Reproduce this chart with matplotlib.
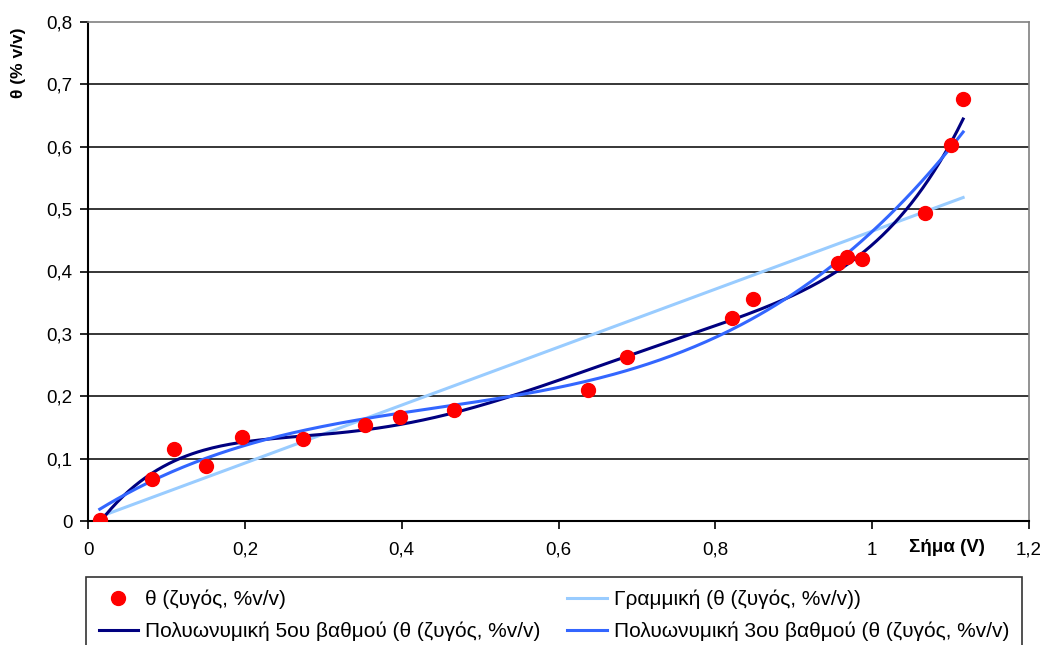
import numpy as np
import matplotlib
matplotlib.use("Agg")
import matplotlib.pyplot as plt
from matplotlib.ticker import FixedLocator, FuncFormatter

plt.rcParams['font.family'] = ['Liberation Sans', 'DejaVu Sans']

# Data
signal_v = [0.015, 0.082, 0.110, 0.150, 0.196, 0.274, 0.353, 0.398, 0.467,
            0.638, 0.687, 0.821, 0.848, 0.957, 0.968, 0.987, 1.068, 1.101, 1.116]
theta = [0.002, 0.067, 0.115, 0.088, 0.135, 0.131, 0.154, 0.167, 0.178,
         0.210, 0.263, 0.325, 0.356, 0.413, 0.423, 0.420, 0.494, 0.603, 0.676]

x_ticks = [0, 0.2, 0.4, 0.6, 0.8, 1.0, 1.2]
y_ticks = [0, 0.1, 0.2, 0.3, 0.4, 0.5, 0.6, 0.7, 0.8]

lbl_points = "θ (ζυγός, %v/v)"
lbl_lin = "Γραμμική (θ (ζυγός, %v/v))"
lbl_p5 = "Πολυωνυμική 5ου βαθμού (θ (ζυγός, %v/v)"
lbl_p3 = "Πολυωνυμική 3ου βαθμού (θ (ζυγός, %v/v)"

x = np.array(signal_v)
y = np.array(theta)
xs = np.linspace(x.min(), x.max(), 300)
lin = np.polyval(np.polyfit(x, y, 1), xs)
p5 = np.polyval(np.polyfit(x, y, 5), xs)
p3 = np.polyval(np.polyfit(x, y, 3), xs)

W, H = 1045, 645
fig = plt.figure(figsize=(W/100, H/100), dpi=100)
ax = fig.add_axes([88/W, 1-521/H, (1029-88)/W, (521-22)/H])

for v in y_ticks[1:-1]:
    ax.axhline(v, color='black', lw=1.1, zorder=1)

h_pts, = ax.plot(x, y, 'o', color='#FF0000', ms=10, mec='#FF0000', zorder=3, label=lbl_points)
h_lin, = ax.plot(xs, lin, color='#99CCFF', lw=2.2, zorder=2, label=lbl_lin)
h_p5, = ax.plot(xs, p5, color='#000080', lw=2.2, zorder=2, label=lbl_p5)
h_p3, = ax.plot(xs, p3, color='#3366FF', lw=2.2, zorder=2, label=lbl_p3)

ax.set_xlim(0, 1.2)
ax.set_ylim(0, 0.8)
ax.xaxis.set_major_locator(FixedLocator(x_ticks))
ax.yaxis.set_major_locator(FixedLocator(y_ticks))
fmt = FuncFormatter(lambda v, p: ('%g' % round(v, 2)).replace('.', ','))
ax.xaxis.set_major_formatter(fmt)
ax.yaxis.set_major_formatter(fmt)
ax.tick_params(axis='both', direction='out', length=6, width=1.2, labelsize=13.5, color='black')
ax.tick_params(axis='x', pad=9)
ax.tick_params(axis='y', pad=5)

ax.spines['left'].set_color('black')
ax.spines['left'].set_linewidth(1.5)
ax.spines['bottom'].set_color('black')
ax.spines['bottom'].set_linewidth(1.5)
ax.spines['top'].set_color('#808080')
ax.spines['top'].set_linewidth(1.2)
ax.spines['right'].set_color('#808080')
ax.spines['right'].set_linewidth(1.2)

fig.text(947/W, 1-548/H, "Σήμα (V)", fontsize=13.5, fontweight='bold', ha='center', va='center')
fig.text(18/W, 1-63/H, "θ (% v/v)", fontsize=12.5, fontweight='bold', rotation=90, ha='center', va='center')

# column-major fill: row1 = points, linear; row2 = poly5, poly3
leg = fig.legend(handles=[h_pts, h_p5, h_lin, h_p3], loc='upper left',
                 bbox_to_anchor=(86/W, 1-577/H, (1022-86)/W, 0.0),
                 mode='expand', ncol=2, fontsize=15, frameon=True, fancybox=False,
                 edgecolor='black', borderaxespad=0, handlelength=1.9,
                 handletextpad=0.35, labelspacing=0.62, borderpad=0.6, numpoints=1)
leg.get_frame().set_linewidth(1.2)

fig.savefig('out.png', dpi=100, facecolor='white')
